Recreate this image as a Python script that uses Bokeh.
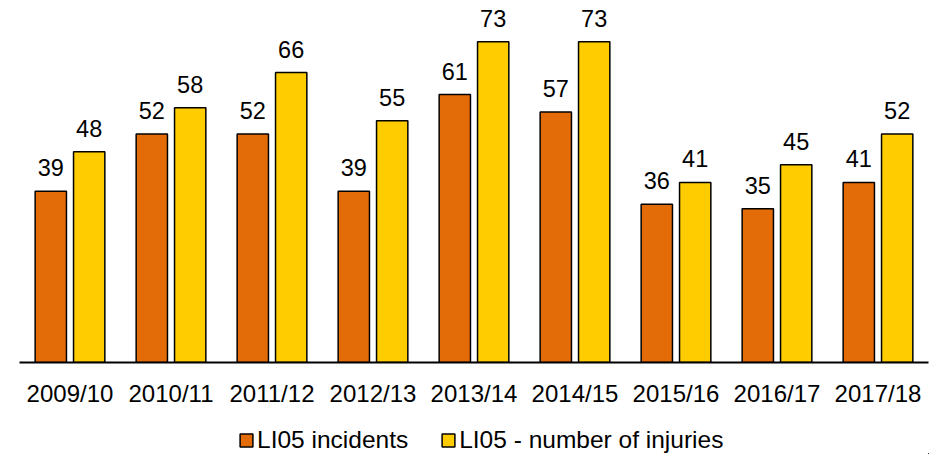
from bokeh.plotting import figure
from bokeh.layouts import column
from bokeh.models import ColumnDataSource, FactorRange, LabelSet, Legend, LegendItem
from bokeh.core.properties import value
from bokeh.transform import dodge
from bokeh.embed import file_html
from bokeh.resources import INLINE

years = ["2009/10", "2010/11", "2011/12", "2012/13", "2013/14", "2014/15", "2015/16", "2016/17", "2017/18"]
incidents = [39, 52, 52, 39, 61, 57, 36, 35, 41]
injuries = [48, 58, 66, 55, 73, 73, 41, 45, 52]
series_names = ["LI05 incidents", "LI05 - number of injuries"]

ORANGE = "#E36C09"
YELLOW = "#FFCC00"
FONT = "Liberation Sans"

src = ColumnDataSource(dict(
    year=years,
    inc=incidents,
    inj=injuries,
    inc_lbl=[str(v) for v in incidents],
    inj_lbl=[str(v) for v in injuries],
))

# ---- main chart ----
p = figure(
    x_range=FactorRange(*years, range_padding=0),
    y_range=(0, 82.4),
    width=932, height=409,
    output_backend="svg", toolbar_location=None,
    min_border_left=19, min_border_right=4, min_border_top=0, min_border_bottom=46,
)
p.outline_line_color = None
p.background_fill_color = "white"
p.border_fill_color = "white"
p.xgrid.visible = False
p.ygrid.visible = False
p.yaxis.visible = False

bar_style = dict(width=0.31, line_color="black", line_width=1.5)
p.vbar(x=dodge("year", -0.19, range=p.x_range), top="inc", source=src, fill_color=ORANGE, **bar_style)
p.vbar(x=dodge("year", 0.19, range=p.x_range), top="inj", source=src, fill_color=YELLOW, **bar_style)

for col, off in (("inc", -0.19), ("inj", 0.19)):
    lbl = LabelSet(x=dodge("year", off, range=p.x_range), y=col, text=col + "_lbl", source=src,
                   text_align="center", text_baseline="alphabetic", y_offset=15,
                   text_font=value(FONT), text_font_size=value("23.5px"), text_color="black")
    p.add_layout(lbl)

ax = p.xaxis[0]
ax.axis_line_color = "black"
ax.axis_line_width = 2
ax.major_tick_line_color = None
ax.minor_tick_line_color = None
ax.major_tick_out = 0
ax.major_tick_in = 0
ax.major_label_standoff = 17
ax.major_label_text_font = FONT
ax.major_label_text_font_size = "24px"
ax.major_label_text_color = "black"

# ---- legend strip (its renderers sit outside the visible ranges; only the legend shows) ----
q = figure(
    x_range=FactorRange(*years, range_padding=0),
    y_range=(1000, 1001),
    width=932, height=45,
    output_backend="svg", toolbar_location=None,
    min_border_left=0, min_border_right=0, min_border_top=0, min_border_bottom=0,
)
q.outline_line_color = None
q.xaxis.visible = False
q.yaxis.visible = False
q.xgrid.visible = False
q.ygrid.visible = False
l1 = q.vbar(x=dodge("year", 30, range=q.x_range), top="inc", source=src, fill_color=ORANGE, **bar_style)
l2 = q.vbar(x=dodge("year", 30, range=q.x_range), top="inj", source=src, fill_color=YELLOW, **bar_style)

legend = Legend(
    items=[LegendItem(label=series_names[0], renderers=[l1]),
           LegendItem(label=series_names[1], renderers=[l2])],
    orientation="horizontal", location=(219, 0),
    label_text_font=FONT, label_text_font_size="24.5px", label_text_color="black",
    glyph_width=16, glyph_height=16, label_standoff=3, spacing=32,
    padding=0, margin=0, border_line_color=None, background_fill_alpha=0,
)
q.add_layout(legend, "center")

layout = column(p, q, spacing=0)
html = file_html(layout, INLINE)
open("out.html", "w").write(html)
